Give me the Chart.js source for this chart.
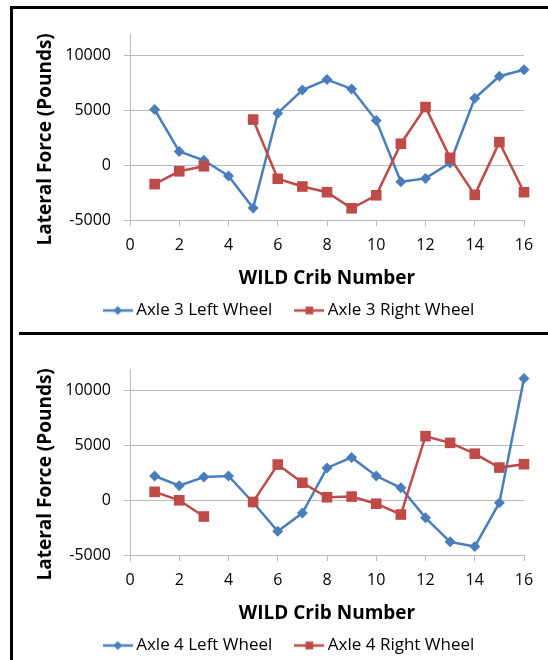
<!DOCTYPE html>
<html>
<head>
<meta charset="utf-8">
<script src="https://cdn.jsdelivr.net/npm/chart.js@4.4.1/dist/chart.umd.min.js"></script>
<style>
  html, body { margin: 0; padding: 0; background: #fff; overflow: hidden; width: 548px; height: 660px; }
  .frame { position: absolute; left: 10px; top: 6px; width: 560px; height: 670px; border-left: 3px solid #000; border-top: 3px solid #000; }
  .divider { position: absolute; left: 19px; top: 332px; width: 560px; height: 3px; background: #000; z-index: 2; }
  .box { position: absolute; left: 34px; width: 515px; height: 334px; }
  #box1 { top: 10px; }
  #box2 { top: 345px; }
</style>
</head>
<body>
<div class="frame"></div>
<div class="box" id="box1"><canvas id="chart1"></canvas></div>
<div class="box" id="box2"><canvas id="chart2"></canvas></div>
<div class="divider"></div>
<script>
// WILD crib numbers along the x axis
const cribs = [1, 2, 3, 4, 5, 6, 7, 8, 9, 10, 11, 12, 13, 14, 15, 16]

// lateral force in pounds, null = no reading
const axle3Left = [5100, 1260, 460, -980, -3900, 4760, 6880, 7840, 6980, 4090, -1510, -1200, 220, 6120, 8140, 8730]
const axle3Right = [-1720, -550, -90, null, 4180, -1230, -1940, -2460, -3930, -2740, 1970, 5320, 680, -2700, 2120, -2460]
const axle4Left = [2220, 1330, 2130, 2220, -200, -2840, -1170, 2960, 3920, 2220, 1140, -1600, -3800, -4230, -220, 11140]
const axle4Right = [770, 0, -1480, null, -150, 3270, 1600, 280, 340, -310, -1300, 5860, 5250, 4260, 2990, 3300]

// axis ticks
const xTicks = [0, 2, 4, 6, 8, 10, 12, 14, 16]
const yTicks = [-5000, 0, 5000, 10000]
const yMax = 12000

const blue = "#4A7EBB"
const red = "#BE4B48"
const gridGrey = "#b9b9b9"

Chart.defaults.font.family = "'Open Sans', sans-serif"
Chart.defaults.font.size = 16
Chart.defaults.color = "#000"

function toPoints(values) {
  return cribs.map((c, i) => ({ x: c, y: values[i] }))
}

// little "line with marker" picture for the legend, like Excel draws it
function legendSymbol(color, style, radius) {
  const c = document.createElement("canvas")
  c.width = 30
  c.height = 14
  const ctx = c.getContext("2d")
  ctx.strokeStyle = color
  ctx.fillStyle = color
  ctx.lineWidth = 2.5
  ctx.beginPath()
  ctx.moveTo(0, 7)
  ctx.lineTo(30, 7)
  ctx.stroke()
  Chart.helpers.drawPoint(ctx, { pointStyle: style, radius: radius, borderWidth: 0, rotation: 0 }, 15, 7)
  return c
}

// legend sits a bit right of the canvas centre in the original
const legendNudge = {
  id: "legendNudge",
  afterLayout(chart) {
    const l = chart.legend
    l.left += 12
    l.right += 12
    l.top -= 15
    l.bottom -= 15
  }
}

function buildChart(canvasId, leftLabel, leftValues, rightLabel, rightValues) {
  const leftSym = legendSymbol(blue, "rectRot", 4.5)
  const rightSym = legendSymbol(red, "rect", 5.5)

  return new Chart(document.getElementById(canvasId), {
    type: "line",
    data: {
      datasets: [
        {
          label: leftLabel,
          data: toPoints(leftValues),
          borderColor: blue,
          backgroundColor: blue,
          pointBackgroundColor: blue,
          borderWidth: 2.5,
          pointStyle: "rectRot",
          pointRadius: 5.5,
          pointBorderWidth: 0,
          order: 1,
          clip: false
        },
        {
          label: rightLabel,
          data: toPoints(rightValues),
          borderColor: red,
          backgroundColor: red,
          pointBackgroundColor: red,
          borderWidth: 2.5,
          pointStyle: "rect",
          pointRadius: 7.5,
          pointBorderWidth: 0,
          order: 0,
          spanGaps: false,
          clip: false
        }
      ]
    },
    options: {
      responsive: true,
      maintainAspectRatio: false,
      animation: false,
      events: [],
      layout: { padding: { top: 24, right: 25, bottom: 0, left: 0 }, autoPadding: false },
      elements: { line: { tension: 0 } },
      scales: {
        x: {
          type: "linear",
          min: xTicks[0],
          max: xTicks[xTicks.length - 1],
          afterBuildTicks: s => { s.ticks = xTicks.map(v => ({ value: v })) },
          ticks: { padding: 10, maxRotation: 0, autoSkip: false, color: "#000" },
          grid: { drawOnChartArea: false, drawTicks: true, tickLength: 6, color: gridGrey },
          border: { color: gridGrey },
          title: { display: true, text: "WILD Crib Number", font: { size: 19, weight: "bold" }, color: "#000", padding: 0 },
          afterFit: s => { s.height = 70 }
        },
        y: {
          min: yTicks[0],
          max: yMax,
          afterBuildTicks: s => { s.ticks = yTicks.map(v => ({ value: v })) },
          ticks: { padding: 13, color: "#000", callback: v => String(v) },
          grid: { color: gridGrey, tickLength: 6 },
          border: { color: gridGrey },
          title: {
            display: true,
            text: "Lateral Force (Pounds)\u00a0\u00a0\u00a0\u00a0\u00a0",
            font: { size: 19, weight: "bold" },
            color: "#000",
            padding: 0
          },
          afterFit: s => { s.width = 96 }
        }
      },
      plugins: {
        tooltip: { enabled: false },
        legend: {
          position: "bottom",
          labels: {
            usePointStyle: true,
            pointStyleWidth: 20,
            padding: 27,
            color: "#000",
            font: { size: 17 },
            generateLabels: chart => chart.data.datasets.map((ds, i) => ({
              text: ds.label,
              pointStyle: i === 0 ? leftSym : rightSym,
              fillStyle: ds.borderColor,
              strokeStyle: ds.borderColor,
              lineWidth: 0,
              hidden: false,
              datasetIndex: i
            }))
          }
        }
      }
    },
    plugins: [legendNudge]
  })
}

buildChart("chart1", "Axle 3 Left Wheel", axle3Left, "Axle 3 Right Wheel", axle3Right)
buildChart("chart2", "Axle 4 Left Wheel", axle4Left, "Axle 4 Right Wheel", axle4Right)
</script>
</body>
</html>
